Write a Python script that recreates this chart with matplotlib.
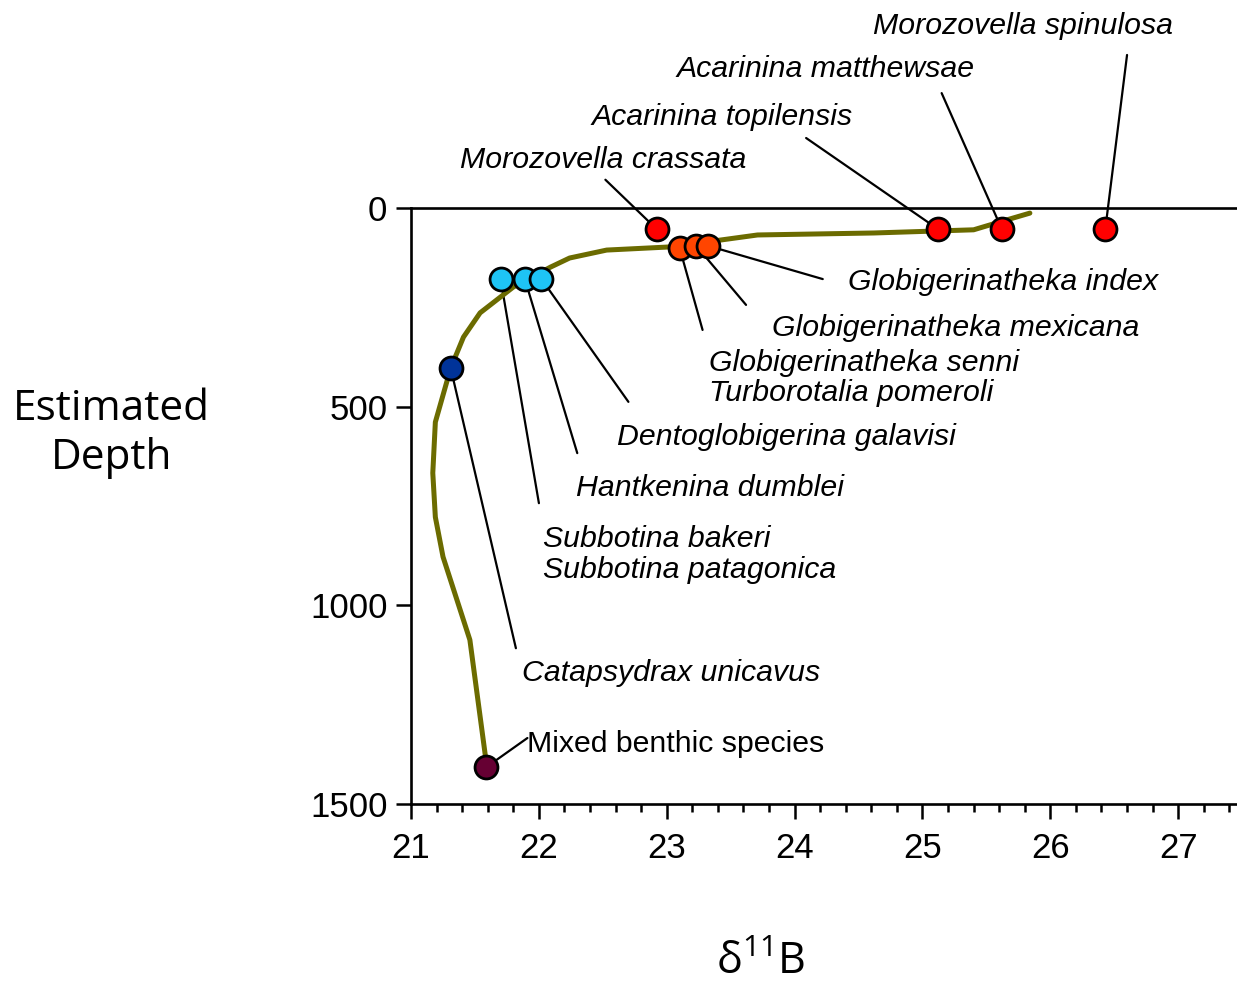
import numpy as np
import matplotlib.pyplot as plt
from matplotlib.ticker import MultipleLocator

# smoothed depth profile (d11B vs estimated depth)
curve_d11b = [21.59, 21.46, 21.25, 21.19, 21.17, 21.19, 21.31, 21.41, 21.54,
              21.80, 22.09, 22.24, 22.53, 23.03, 23.71, 24.62, 25.40, 25.66, 25.84]
curve_depth = [1400, 1087, 878, 778, 667, 539, 403, 325, 264,
               199, 149, 126, 106, 98, 68, 63, 55, 30, 13]

# species measurements
species = ["Mixed benthic species", "Catapsydrax unicavus",
           "Subbotina bakeri\nSubbotina patagonica", "Hantkenina dumblei",
           "Dentoglobigerina galavisi",
           "Globigerinatheka senni\nTurborotalia pomeroli",
           "Globigerinatheka mexicana", "Globigerinatheka index",
           "Morozovella crassata", "Acarinina topilensis",
           "Acarinina matthewsae", "Morozovella spinulosa"]
d11b = [21.59, 21.31, 21.70, 21.89, 22.02, 23.10, 23.23, 23.32,
        22.92, 25.12, 25.62, 26.43]
depth = [1407, 403, 179, 179, 179, 100, 95, 95, 53, 53, 53, 53]
colors = ["#660033", "#003399", "#1EC4F5", "#1EC4F5", "#1EC4F5",
          "#FF4500", "#FF4500", "#FF4500", "#FF0000", "#FF0000",
          "#FF0000", "#FF0000"]

# label placement: line start and text anchor (data units)
line_start = [(21.91, 1334), (21.82, 1108), (22.00, 743), (22.30, 617),
              (22.70, 488), (23.28, 307), (23.62, 244), (24.22, 179),
              (22.52, -71), (24.09, -176), (25.15, -289), (26.60, -385)]
text_pos = [(21.91, 1350), (21.87, 1170), (22.03, 872), (22.29, 705),
            (22.61, 576), (23.33, 427), (23.82, 302), (24.42, 186),
            (21.38, -121), (22.41, -229), (23.08, -350), (24.61, -458)]

plt.rcParams['font.family'] = ['Liberation Sans', 'DejaVu Sans']
plt.rcParams['mathtext.fontset'] = 'custom'
plt.rcParams['mathtext.rm'] = 'Open Sans'

fig = plt.figure(figsize=(12.37, 9.86), dpi=100)
ax = fig.add_axes([0.3323, 0.1846, 0.6677, 0.6045])

ax.plot(curve_d11b, curve_depth, color="#6B6B00", lw=3.6, zorder=2,
        solid_capstyle='round')

for i, name in enumerate(species):
    ax.annotate('', xy=(d11b[i], depth[i]), xytext=line_start[i],
                arrowprops=dict(arrowstyle='-', color='black', lw=1.6,
                                shrinkA=0, shrinkB=0), zorder=1)
    style = 'normal' if i == 0 else 'italic'
    ax.text(text_pos[i][0], text_pos[i][1], name, fontsize=21.8,
            style=style, ha='left', va='center', linespacing=1.1)

for i in range(len(species)):
    ax.plot(d11b[i], depth[i], 'o', ms=16.5, mfc=colors[i], mec='black',
            mew=2.0, zorder=3, clip_on=False)

ax.set_xlim(21, 27.46)
ax.set_ylim(1500, 0)
ax.set_yticks([0, 500, 1000, 1500])
ax.set_xticks(np.arange(21, 28))
ax.xaxis.set_minor_locator(MultipleLocator(0.2))
ax.tick_params(axis='both', which='major', length=11, width=1.8,
               labelsize=25, direction='out', pad=6)
ax.tick_params(axis='x', which='major', pad=9)
ax.tick_params(axis='x', which='minor', length=5.5, width=1.8, direction='out')

ax.spines['right'].set_visible(False)
for s in ['left', 'top', 'bottom']:
    ax.spines[s].set_linewidth(1.9)

fig.text(0.09, 0.56, "Estimated\nDepth", fontsize=30.5, family='Open Sans',
         ha='center', va='center', linespacing=1.22)
fig.text(0.615, 0.012, r"$\mathregular{\delta^{11}B}$", fontsize=31,
         family='Open Sans', ha='center', va='baseline')

fig.savefig("out.png", dpi=100)
